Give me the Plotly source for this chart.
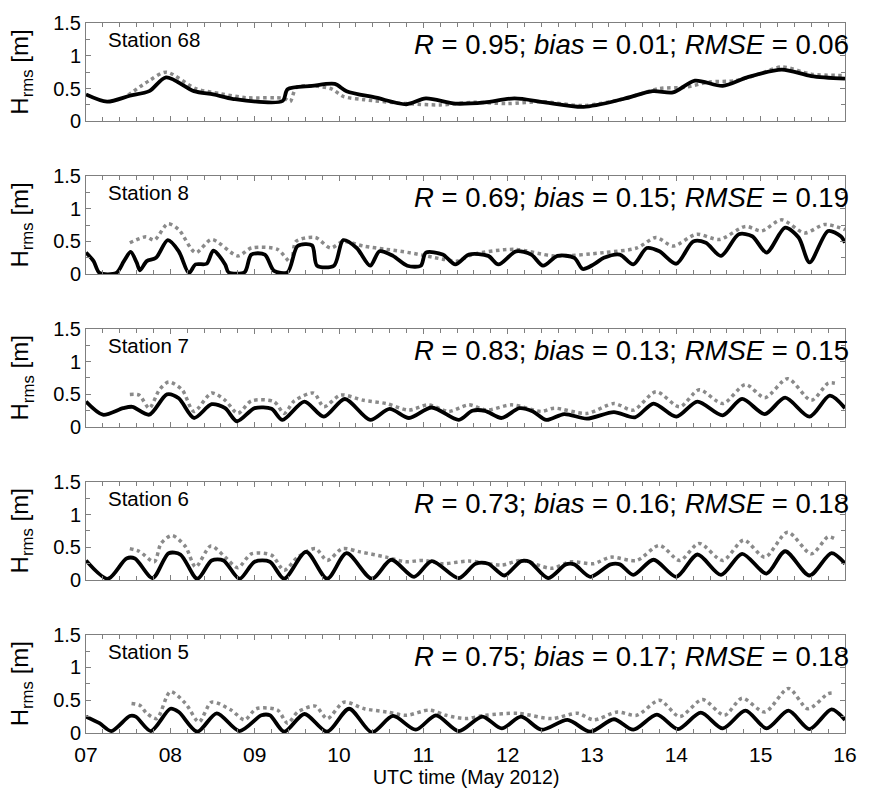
import plotly.graph_objects as go
from plotly.subplots import make_subplots

stations = ["Station 68", "Station 8", "Station 7", "Station 6", "Station 5"]
stat_r = ["0.95", "0.69", "0.83", "0.73", "0.75"]
stat_bias = ["0.01", "0.15", "0.13", "0.16", "0.17"]
stat_rmse = ["0.06", "0.19", "0.15", "0.18", "0.18"]

day_ticks = [7, 8, 9, 10, 11, 12, 13, 14, 15, 16]
day_labels = ["07", "08", "09", "10", "11", "12", "13", "14", "15", "16"]
h_ticks = [0, 0.5, 1, 1.5]
h_labels = ["0", "0.5", "1", "1.5"]

# Station 68
obs68_t = [7.0, 7.25, 7.52, 7.75, 7.95, 8.28, 8.51, 8.75, 9.33, 9.39, 9.68, 9.95, 10.09, 10.44, 10.80, 11.03,
           11.38, 11.73, 12.08, 12.44, 12.90, 13.37, 13.72, 13.96, 14.22, 14.55, 14.84, 15.25, 15.60, 16.0]
obs68_h = [0.41, 0.30, 0.39, 0.46, 0.67, 0.46, 0.41, 0.34, 0.31, 0.49, 0.54, 0.57, 0.46, 0.36, 0.26, 0.35,
           0.27, 0.29, 0.35, 0.29, 0.22, 0.34, 0.46, 0.44, 0.62, 0.54, 0.67, 0.79, 0.69, 0.65]
mod68_t = [7.5, 7.75, 7.95, 8.3, 8.6, 8.9, 9.35, 9.42, 9.5, 9.9, 10.05, 10.3, 10.8, 11.2, 11.6, 12.0, 12.4,
           12.9, 13.4, 13.8, 14.1, 14.4, 14.7, 15.0, 15.25, 15.6, 16.0]
mod68_h = [0.40, 0.62, 0.75, 0.50, 0.42, 0.36, 0.35, 0.30, 0.52, 0.50, 0.38, 0.33, 0.27, 0.25, 0.29, 0.27, 0.30,
           0.24, 0.35, 0.50, 0.52, 0.60, 0.62, 0.73, 0.83, 0.72, 0.70]

# Station 8
obs8_t = [7.0, 7.09, 7.16, 7.36, 7.45, 7.53, 7.60, 7.64, 7.72, 7.83, 7.97, 8.10, 8.22, 8.30, 8.43, 8.51, 8.65,
          8.69, 8.88, 8.96, 9.12, 9.23, 9.39, 9.51, 9.68, 9.74, 9.94, 10.05, 10.21, 10.37, 10.48, 10.64, 10.81,
          10.97, 11.03, 11.23, 11.38, 11.54, 11.77, 11.89, 12.10, 12.28, 12.42, 12.59, 12.79, 12.89, 13.02,
          13.14, 13.33, 13.49, 13.65, 13.80, 14.00, 14.20, 14.35, 14.53, 14.74, 14.90, 15.07, 15.29, 15.45,
          15.58, 15.80, 15.95, 16.0]
obs8_h = [0.33, 0.20, 0.02, 0.02, 0.20, 0.34, 0.18, 0.06, 0.20, 0.25, 0.52, 0.35, 0.02, 0.15, 0.16, 0.36, 0.15,
          0.03, 0.03, 0.30, 0.30, 0.05, 0.03, 0.43, 0.44, 0.13, 0.13, 0.52, 0.40, 0.13, 0.35, 0.28, 0.13,
          0.13, 0.33, 0.30, 0.15, 0.30, 0.28, 0.15, 0.35, 0.30, 0.13, 0.28, 0.25, 0.08, 0.15,
          0.25, 0.30, 0.15, 0.40, 0.35, 0.16, 0.50, 0.48, 0.28, 0.61, 0.58, 0.33, 0.71, 0.56,
          0.18, 0.66, 0.58, 0.48]
mod8_t = [7.52, 7.71, 7.81, 7.97, 8.10, 8.30, 8.49, 8.80, 8.96, 9.27, 9.43, 9.49, 9.72, 9.90, 10.05, 10.29,
          10.56, 10.83, 11.23, 11.40, 11.58, 12.08, 12.55, 13.14, 13.53, 13.76, 13.96, 14.24, 14.51, 14.82,
          15.01, 15.25, 15.52, 15.76, 16.0]
mod8_h = [0.48, 0.57, 0.52, 0.77, 0.68, 0.33, 0.53, 0.28, 0.40, 0.38, 0.18, 0.50, 0.56, 0.40, 0.50, 0.43,
          0.38, 0.33, 0.23, 0.20, 0.30, 0.38, 0.28, 0.33, 0.40, 0.56, 0.43, 0.61, 0.53, 0.73,
          0.66, 0.83, 0.63, 0.76, 0.68]

# Station 7
obs7_t = [7.0, 7.20, 7.44, 7.55, 7.75, 7.96, 8.10, 8.28, 8.49, 8.65, 8.79, 9.00, 9.20, 9.33, 9.59, 9.82, 10.07,
          10.37, 10.60, 10.83, 11.10, 11.42, 11.58, 11.73, 11.93, 12.14, 12.30, 12.46, 12.67, 12.94, 13.26,
          13.51, 13.73, 14.00, 14.25, 14.55, 14.78, 15.05, 15.29, 15.58, 15.82, 16.0]
obs7_h = [0.39, 0.19, 0.29, 0.31, 0.19, 0.50, 0.44, 0.14, 0.35, 0.29, 0.09, 0.29, 0.28, 0.11, 0.39, 0.16, 0.43,
          0.11, 0.28, 0.14, 0.30, 0.11, 0.25, 0.25, 0.14, 0.29, 0.24, 0.11, 0.20, 0.13, 0.23,
          0.15, 0.36, 0.16, 0.39, 0.18, 0.43, 0.20, 0.45, 0.16, 0.48, 0.29]
mod7_t = [7.52, 7.63, 7.75, 7.87, 7.98, 8.14, 8.28, 8.49, 8.65, 8.80, 8.96, 9.23, 9.35, 9.47, 9.70, 9.82, 10.02,
          10.29, 10.56, 10.83, 11.06, 11.30, 11.54, 11.75, 12.05, 12.40, 12.55, 12.94, 13.26, 13.49, 13.76,
          14.04, 14.27, 14.55, 14.82, 15.05, 15.32, 15.60, 15.80, 15.88]
mod7_h = [0.50, 0.49, 0.29, 0.57, 0.69, 0.57, 0.24, 0.52, 0.41, 0.21, 0.40, 0.39, 0.21, 0.40, 0.52, 0.31, 0.49,
          0.41, 0.36, 0.26, 0.34, 0.24, 0.34, 0.26, 0.34, 0.24, 0.29, 0.21, 0.36, 0.26, 0.54,
          0.31, 0.57, 0.36, 0.65, 0.45, 0.74, 0.41, 0.67, 0.67]

# Station 6
obs6_t = [7.0, 7.26, 7.48, 7.58, 7.79, 7.98, 8.12, 8.32, 8.49, 8.63, 8.82, 9.00, 9.18, 9.35, 9.61, 9.86, 10.09,
          10.39, 10.62, 10.89, 11.10, 11.42, 11.62, 11.77, 11.96, 12.16, 12.26, 12.48, 12.69, 12.79, 12.98,
          13.22, 13.33, 13.49, 13.73, 14.00, 14.25, 14.53, 14.78, 15.07, 15.29, 15.58, 15.84, 16.0]
obs6_h = [0.30, 0.02, 0.33, 0.33, 0.03, 0.41, 0.39, 0.02, 0.30, 0.30, 0.02, 0.28, 0.28, 0.02, 0.43, 0.02, 0.41,
          0.02, 0.31, 0.05, 0.29, 0.03, 0.25, 0.25, 0.07, 0.29, 0.28, 0.03, 0.24, 0.24, 0.05,
          0.24, 0.24, 0.08, 0.31, 0.05, 0.39, 0.08, 0.40, 0.10, 0.44, 0.07, 0.41, 0.25]
mod6_t = [7.52, 7.63, 7.81, 7.89, 8.02, 8.18, 8.30, 8.48, 8.65, 8.80, 8.96, 9.20, 9.35, 9.51, 9.72, 9.86, 10.04,
          10.25, 10.56, 10.79, 11.00, 11.23, 11.54, 11.93, 12.16, 12.52, 12.75, 13.02, 13.22, 13.53, 13.80,
          14.04, 14.27, 14.55, 14.80, 15.05, 15.32, 15.60, 15.80, 15.88]
mod6_h = [0.48, 0.44, 0.28, 0.56, 0.68, 0.51, 0.20, 0.52, 0.35, 0.19, 0.40, 0.38, 0.15, 0.35, 0.48, 0.30, 0.48,
          0.43, 0.35, 0.28, 0.30, 0.25, 0.29, 0.23, 0.30, 0.18, 0.28, 0.25, 0.35, 0.30, 0.53,
          0.30, 0.56, 0.30, 0.61, 0.35, 0.73, 0.40, 0.66, 0.63]

# Station 5
obs5_t = [7.0, 7.16, 7.30, 7.52, 7.59, 7.77, 8.00, 8.10, 8.32, 8.55, 8.82, 9.08, 9.18, 9.35, 9.59, 9.86, 10.12,
          10.39, 10.64, 10.91, 11.15, 11.42, 11.70, 11.93, 12.16, 12.40, 12.71, 12.98, 13.26, 13.49, 13.77,
          14.02, 14.29, 14.55, 14.82, 15.07, 15.33, 15.58, 15.84, 16.0]
obs5_h = [0.25, 0.15, 0.03, 0.26, 0.25, 0.03, 0.37, 0.32, 0.02, 0.30, 0.03, 0.27, 0.27, 0.02, 0.29, 0.02, 0.37,
          0.01, 0.26, 0.05, 0.27, 0.03, 0.25, 0.07, 0.25, 0.05, 0.20, 0.02, 0.21, 0.05, 0.28,
          0.06, 0.31, 0.07, 0.34, 0.07, 0.34, 0.06, 0.36, 0.20]
mod5_t = [7.54, 7.64, 7.72, 7.84, 8.00, 8.18, 8.34, 8.49, 8.72, 8.88, 9.02, 9.27, 9.39, 9.51, 9.72, 9.86, 10.06,
          10.30, 10.57, 10.80, 11.07, 11.27, 11.50, 11.73, 12.12, 12.52, 12.83, 13.02, 13.30, 13.53, 13.80,
          14.04, 14.31, 14.57, 14.78, 15.05, 15.33, 15.56, 15.80, 15.88]
mod5_h = [0.45, 0.42, 0.30, 0.22, 0.63, 0.45, 0.17, 0.47, 0.35, 0.20, 0.37, 0.35, 0.15, 0.32, 0.41, 0.22, 0.47,
          0.37, 0.32, 0.27, 0.35, 0.27, 0.22, 0.27, 0.30, 0.22, 0.30, 0.20, 0.32, 0.27, 0.50,
          0.25, 0.51, 0.27, 0.53, 0.32, 0.68, 0.37, 0.60, 0.61]

obs_t = [obs68_t, obs8_t, obs7_t, obs6_t, obs5_t]
obs_h = [obs68_h, obs8_h, obs7_h, obs6_h, obs5_h]
mod_t = [mod68_t, mod8_t, mod7_t, mod6_t, mod5_t]
mod_h = [mod68_h, mod8_h, mod7_h, mod6_h, mod5_h]

FONT = "Liberation Sans, Arial, Helvetica, sans-serif"
FRAME = "#7f7f7f"

fig = make_subplots(rows=5, cols=1, vertical_spacing=55 / 715)

for i in range(5):
    r = i + 1
    fig.add_trace(go.Scatter(x=mod_t[i], y=mod_h[i], mode="lines",
                             line=dict(color="#8a8a8a", width=3.5, dash="dot", shape="spline", smoothing=0.8),
                             showlegend=False, hoverinfo="skip"), row=r, col=1)
    fig.add_trace(go.Scatter(x=obs_t[i], y=obs_h[i], mode="lines",
                             line=dict(color="black", width=3.8, shape="spline", smoothing=0.8),
                             showlegend=False, hoverinfo="skip"), row=r, col=1)
    fig.update_xaxes(range=[7, 16], tickmode="array", tickvals=day_ticks, ticktext=day_labels,
                     ticks="inside", ticklen=5, tickcolor=FRAME, tickwidth=1,
                     showline=True, linecolor=FRAME, linewidth=1, mirror="ticks",
                     showgrid=False, zeroline=False,
                     minor=dict(dtick=0.2, ticks="inside", ticklen=4, tickcolor=FRAME, showgrid=False),
                     showticklabels=(r == 5), ticklabelstandoff=3,
                     tickfont=dict(family=FONT, size=21, color="black"), row=r, col=1)
    fig.update_yaxes(range=[0, 1.5], tickmode="array", tickvals=h_ticks, ticktext=h_labels,
                     ticks="inside", ticklen=5, tickcolor=FRAME, tickwidth=1,
                     showline=True, linecolor=FRAME, linewidth=1, mirror="ticks",
                     showgrid=False, zeroline=False,
                     minor=dict(dtick=0.25, ticks="inside", ticklen=4, tickcolor=FRAME, showgrid=False),
                     tickfont=dict(family=FONT, size=20, color="black"), row=r, col=1)
    ysuf = "" if r == 1 else str(r)
    xsuf = "" if r == 1 else str(r)
    fig.add_annotation(xref=f"x{xsuf} domain", yref=f"y{ysuf} domain", x=0.027, y=0.97,
                       xanchor="left", yanchor="top", showarrow=False, text=stations[i],
                       font=dict(family=FONT, size=20.5, color="black"))
    fig.add_annotation(xref=f"x{xsuf} domain", yref=f"y{ysuf} domain", x=1.008, y=0.96,
                       xanchor="right", yanchor="top", showarrow=False,
                       text=f"<i>R</i> = {stat_r[i]}; <i>bias</i> = {stat_bias[i]}; <i>RMSE</i> = {stat_rmse[i]}",
                       font=dict(family=FONT, size=27.5, color="black"))
    fig.add_annotation(xref="paper", yref=f"y{ysuf} domain", x=-0.085, y=0.5,
                       xanchor="center", yanchor="middle", showarrow=False, textangle=-90,
                       text="H<sub>rms</sub> [m]", font=dict(family=FONT, size=24, color="black"))

fig.add_annotation(xref="paper", yref="paper", x=0.5, y=0, yshift=-31, xanchor="center", yanchor="top",
                   showarrow=False, text="UTC time (May 2012)",
                   font=dict(family=FONT, size=19.5, color="black"))

fig.update_layout(width=869, height=789, margin=dict(l=86, r=15, t=18, b=56),
                  plot_bgcolor="white", paper_bgcolor="white")

fig.write_html("out.html")
